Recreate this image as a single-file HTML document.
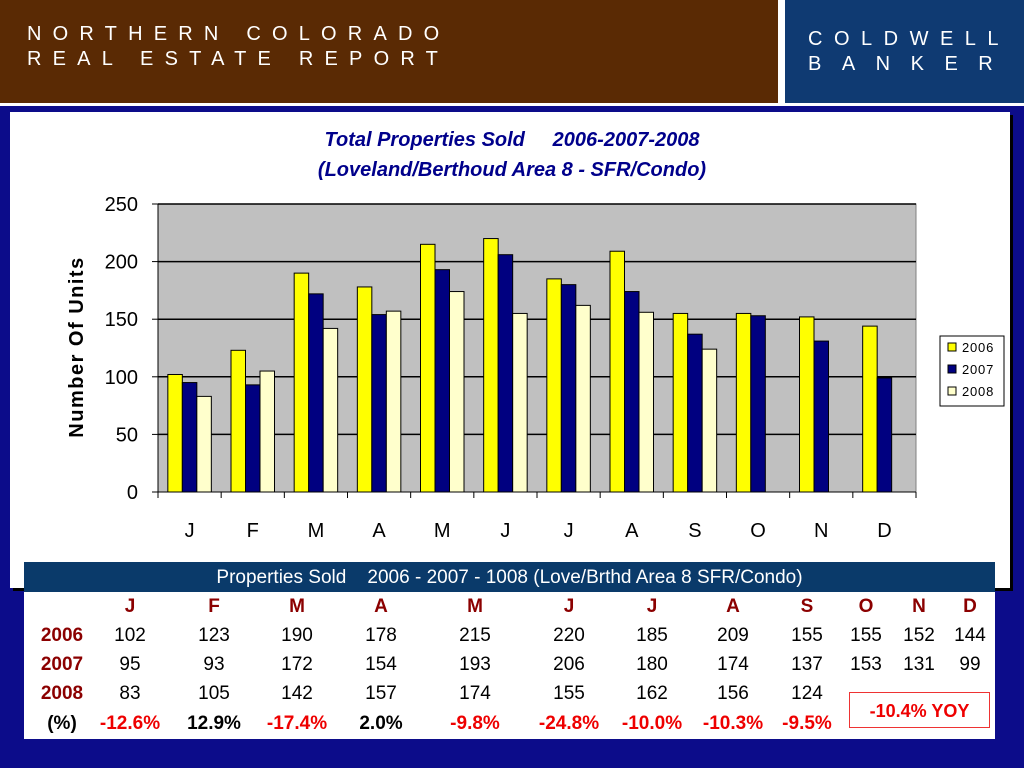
<!DOCTYPE html>
<html><head><meta charset="utf-8">
<style>
*{margin:0;padding:0;box-sizing:border-box}
body{width:1024px;height:768px;overflow:hidden;background:#0c0c8a;font-family:"Liberation Sans",Arial,sans-serif;position:relative}
.abs{position:absolute}
#hdr-left{left:0;top:0;width:778px;height:103px;background:#5a2a04}
#hdr-gap{left:778px;top:0;width:7px;height:103px;background:#fff}
#hdr-right{left:785px;top:0;width:239px;height:103px;background:#0f3a72}
#hdr-line{left:0;top:103px;width:1024px;height:3px;background:#fff}
.ht{color:#fff;font-size:20px;letter-spacing:11.2px;white-space:nowrap}
#panel{left:10px;top:112px;width:1000px;height:476px;background:#fff;box-shadow:3px 3px 0 #000}
#table{left:24px;top:562px;width:971px;height:177px;background:#fff}
#thead{left:24px;top:562px;width:971px;height:30px;background:#0a3a6a;color:#fff;font-size:19px;text-align:center;line-height:31px}
.c{position:absolute;transform:translateX(-50%);font-size:19px;white-space:nowrap}
.mh{color:#8b0000;font-weight:bold}
.yl{color:#8b0000;font-weight:bold}
.red{color:#e00;font-weight:bold}
.blk{color:#000;font-weight:bold}
#yoy{left:849px;top:692px;width:141px;height:36px;border:1.5px solid #e33;color:#e00;font-weight:bold;font-size:18px;text-align:center;line-height:36px}
</style></head><body>
<div class="abs" id="hdr-left"></div>
<div class="abs" id="hdr-gap"></div>
<div class="abs" id="hdr-right"></div>
<div class="abs" id="hdr-line"></div>
<div class="abs ht" style="left:27px;top:23px">NORTHERN COLORADO</div>
<div class="abs ht" style="left:27px;top:48px">REAL ESTATE REPORT</div>
<div class="abs ht" style="left:808px;top:28px;letter-spacing:11.5px">COLDWELL</div>
<div class="abs ht" style="left:808px;top:53px;letter-spacing:20.5px">BANKER</div>
<div class="abs" id="panel"></div>
<svg class="abs" style="left:0;top:0" width="1024" height="768" id="chart"></svg>
<div class="abs" id="table"></div>
<div class="abs" id="thead">Properties Sold &nbsp;&nbsp; 2006 - 2007 - 1008 (Love/Brthd Area 8 SFR/Condo)</div>
<div id="tbody"></div>
<div class="abs" id="yoy">-10.4% YOY</div>
<script>
const months=["J","F","M","A","M","J","J","A","S","O","N","D"];
const s2006=[102,123,190,178,215,220,185,209,155,155,152,144];
const s2007=[95,93,172,154,193,206,180,174,137,153,131,99];
const s2008=[83,105,142,157,174,155,162,156,124,null,null,null];
const pct=["-12.6%","12.9%","-17.4%","2.0%","-9.8%","-24.8%","-10.0%","-10.3%","-9.5%"];
const yTicks=[0,50,100,150,200,250];
const NS="http://www.w3.org/2000/svg";
const svg=document.getElementById('chart');
const X0=158,X1=916,Y0=492,Y1=204,YMAX=250;
const band=(X1-X0)/months.length;
const y=v=>Y0-(v/YMAX)*(Y0-Y1);
function el(t,a){const e=document.createElementNS(NS,t);for(const k in a)e.setAttribute(k,a[k]);svg.appendChild(e);return e;}
let e;
e=el('text',{x:512,y:146,'text-anchor':'middle','font-size':20,'font-style':'italic','font-weight':'bold',fill:'#00008b',style:'white-space:pre'});e.textContent='Total Properties Sold     2006-2007-2008';


e=el('text',{x:512,y:176,'text-anchor':'middle','font-size':20,'font-style':'italic','font-weight':'bold',fill:'#00008b'});e.textContent='(Loveland/Berthoud Area 8 - SFR/Condo)';


e=el('rect',{x:X0,y:Y1,width:X1-X0,height:Y0-Y1,fill:'#c0c0c0',stroke:'#808080'});


yTicks.forEach(t=>{
 if(t>0){e=el('line',{x1:X0,x2:X1,y1:y(t),y2:y(t),stroke:'#000','stroke-width':1.5});
 
 }
 el('line',{x1:X0-6,x2:X0,y1:y(t),y2:y(t),stroke:'#000'});
 e=el('text',{x:X0-20,y:y(t)+7,'text-anchor':'end','font-size':20});e.textContent=t;
 
 
});
el('line',{x1:X0,x2:X0,y1:Y1,y2:Y0+6,stroke:'#000'});
el('line',{x1:X0,x2:X1,y1:Y0,y2:Y0,stroke:'#000'});
const series=[[s2006,'#ffff00'],[s2007,'#000080'],[s2008,'#ffffcc']];
const bw=14.5,gw=bw*3;
months.forEach((m,i)=>{
 const bx=X0+band*i;
 el('line',{x1:bx+band,x2:bx+band,y1:Y0,y2:Y0+6,stroke:'#000'});
 series.forEach(([arr,col],k)=>{
  const v=arr[i]; if(v==null)return;
  e=el('rect',{x:bx+(band-gw)/2+k*bw,y:y(v),width:bw,height:Y0-y(v),fill:col,stroke:'#000','stroke-width':1});
  
  
 });
 e=el('text',{x:bx+band/2,y:537,'text-anchor':'middle','font-size':20});e.textContent=m;
 
 
});
e=el('text',{x:0,y:0,transform:'translate(83,347) rotate(-90)','text-anchor':'middle','font-size':20,'font-weight':'bold','letter-spacing':1.5});e.textContent='Number Of Units';


e=el('rect',{x:940,y:336,width:64,height:70,fill:'#fff',stroke:'#000'});


['2006','2007','2008'].forEach((n,k)=>{
 el('rect',{x:948,y:343+k*22,width:8,height:8,fill:series[k][1],stroke:'#000'});
 e=el('text',{x:962,y:352+k*22,'font-size':13,'letter-spacing':0.8});e.textContent=n;
 
 
});
const cols=[130,214,297,381,475,569,652,733,807,866,919,970];
const tb=document.getElementById('tbody');
function cell(x,yy,txt,cls,name){const d=document.createElement('div');d.className='c '+cls;d.style.left=x+'px';d.style.top=yy+'px';d.textContent=txt;


tb.appendChild(d);}
const rowsY=[596,625,654,683,713];
months.forEach((m,i)=>cell(cols[i],rowsY[0],m,'mh','month-header'));
[['2006',s2006],['2007',s2007],['2008',s2008]].forEach(([n,arr],r)=>{
 cell(62,rowsY[r+1],n,'yl','row-label-'+n);
 arr.forEach((v,i)=>{if(v!=null)cell(cols[i],rowsY[r+1],v,'','cell-'+n);});
});
cell(62,rowsY[4],'(%)','blk','row-label-pct');
pct.forEach((p,i)=>cell(cols[i],rowsY[4],p,p.startsWith('-')?'red':'blk','pct-cell'));
</script>
</body></html>
